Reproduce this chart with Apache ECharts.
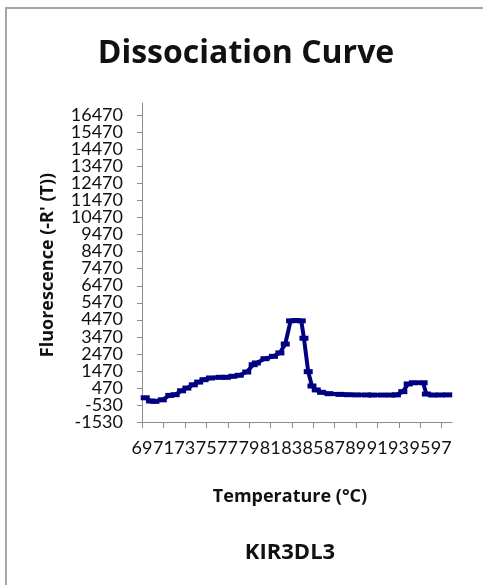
<!DOCTYPE html>
<html>
<head>
<meta charset="utf-8">
<script src="https://cdn.jsdelivr.net/npm/echarts@6/dist/echarts.min.js"></script>
<style>
html,body{margin:0;padding:0;background:#fff;}
#chart{width:483px;height:585px;}
</style>
</head>
<body>
<div id="chart"></div>
<script>
// Temperature (°C) of each reading
var temperatures = [69.3, 69.8, 70.2, 70.9, 71.6, 72.1, 72.7, 73.2, 73.8, 74.3, 74.8, 75.4, 76.3, 76.9, 77.5, 78.1, 78.8, 79.4, 79.7, 80.5, 81.3, 81.9, 82.4, 82.9, 83.4, 83.9, 84.15, 84.55, 84.9, 85.3, 85.8, 86.5, 87.5, 88.3, 89.1, 90.0, 90.6, 91.5, 92.3, 92.8, 93.4, 93.9, 94.4, 95.3, 95.6, 96.2, 96.9, 97.6];
// Fluorescence (-R'(T))
var fluorescence = [-110, -300, -320, -230, 30, 70, 300, 460, 650, 810, 950, 1050, 1090, 1090, 1150, 1210, 1400, 1830, 1930, 2180, 2320, 2520, 3040, 4400, 4420, 4400, 3380, 1420, 580, 350, 210, 130, 90, 70, 60, 55, 50, 50, 50, 60, 250, 700, 770, 770, 110, 50, 55, 60];
// Tick labels
var yTicks = [-1530, -530, 470, 1470, 2470, 3470, 4470, 5470, 6470, 7470, 8470, 9470, 10470, 11470, 12470, 13470, 14470, 15470, 16470];
var xTicks = [69, 71, 73, 75, 77, 79, 81, 83, 85, 87, 89, 91, 93, 95, 97];

var points = temperatures.map(function (t, i) { return [t, fluorescence[i]]; });
// crowded y labels are split over two overlaid axes so none get hidden
var yTicksA = yTicks.filter(function (v, i) { return i % 2 === 0; });
var yTicksB = yTicks.filter(function (v, i) { return i % 2 === 1; });

var chart = echarts.init(document.getElementById('chart'), null, {renderer: 'canvas'});
var txt = '#111';
var axisCol = '#8c8c8c';
var plain = function (v) { return String(v); };
var Y_MIN = -1530, Y_MAX = 17170, X_MIN = 69, X_MAX = 98;
var yLabelAxis = function (vals) {
  return {
    type: 'value', min: Y_MIN, max: Y_MAX, position: 'left', offset: 0,
    axisLine: {show: false, onZero: false}, axisTick: {show: false}, splitLine: {show: false},
    axisLabel: {customValues: vals, formatter: plain, showMinLabel: true, showMaxLabel: true,
      fontFamily: 'Lato', fontSize: 18, color: txt, margin: 19}
  };
};
// tick marks placed through the axis scales (api.coord)
var tickSeries = function (vals, vertical) {
  return {
    type: 'custom', coordinateSystem: 'cartesian2d', xAxisIndex: 0, yAxisIndex: 0,
    silent: true, clip: false, z: 3,
    data: vals.map(function (v) { return vertical ? [v, Y_MIN] : [X_MIN, v]; }),
    renderItem: function (params, api) {
      var p = api.coord([api.value(0), api.value(1)]);
      var shape = vertical
        ? {x1: Math.round(p[0]) + 0.5, y1: p[1], x2: Math.round(p[0]) + 0.5, y2: p[1] + 6}
        : {x1: p[0] - 5, y1: Math.round(p[1]) + 0.5, x2: p[0], y2: Math.round(p[1]) + 0.5};
      return {type: 'line', shape: shape, style: {stroke: axisCol, lineWidth: 1}};
    }
  };
};
chart.setOption({
  animation: false,
  backgroundColor: '#fff',
  graphic: [{
    type: 'rect', silent: true,
    shape: {x: 6, y: 8, width: 600, height: 700},
    style: {fill: 'none', stroke: '#a6a6a6', lineWidth: 2}
  }, {
    type: 'text', silent: true, x: 246, y: 54,
    style: {text: 'Dissociation Curve', fontFamily: 'Open Sans', fontWeight: 'bold', fontSize: 32, fill: txt,
      textAlign: 'center', textVerticalAlign: 'middle'}
  }, {
    type: 'text', silent: true, x: 290, y: 553,
    style: {text: 'KIR3DL3', fontFamily: 'Open Sans', fontWeight: 'bold', fontSize: 22, fill: txt,
      textAlign: 'center', textVerticalAlign: 'middle'}
  }, {
    type: 'text', silent: true, x: 290, y: 497,
    style: {text: 'Temperature (°C)', fontFamily: 'Open Sans', fontWeight: 'bold', fontSize: 18, fill: txt,
      textAlign: 'center', textVerticalAlign: 'middle'}
  }, {
    type: 'text', silent: true, x: 48, y: 265, rotation: Math.PI / 2,
    style: {text: "Fluorescence (-R' (T))", fontFamily: 'Open Sans', fontWeight: 'bold', fontSize: 18, fill: txt,
      textAlign: 'center', textVerticalAlign: 'middle'}
  }],
  grid: {left: 142, top: 103, right: 31, bottom: 163, containLabel: false},
  xAxis: [{
    type: 'value', min: X_MIN, max: X_MAX, position: 'bottom',
    axisLine: {show: true, onZero: false, lineStyle: {color: axisCol, width: 1}},
    axisTick: {show: false},
    axisLabel: {show: false},
    splitLine: {show: false}
  }, {
    type: 'value', min: X_MIN, max: X_MAX, position: 'bottom', offset: 0,
    axisLine: {show: false, onZero: false}, axisTick: {show: false}, splitLine: {show: false},
    axisLabel: {customValues: xTicks, formatter: plain, showMinLabel: true, showMaxLabel: true,
      fontFamily: 'Lato', fontSize: 18, color: txt, margin: 17}
  }],
  yAxis: [{
    type: 'value', min: Y_MIN, max: Y_MAX, position: 'left',
    axisLine: {show: true, onZero: false, lineStyle: {color: axisCol, width: 1}},
    axisTick: {show: false},
    axisLabel: {show: false},
    splitLine: {show: false}
  }, yLabelAxis(yTicksA), yLabelAxis(yTicksB)],
  series: [tickSeries(yTicks, false), tickSeries(xTicks, true), {
    type: 'line', data: points, xAxisIndex: 0, yAxisIndex: 0, z: 5,
    lineStyle: {color: '#000080', width: 4},
    itemStyle: {color: '#000080'},
    symbol: 'rect', symbolSize: [9, 5], showSymbol: true
  }]
});
</script>
</body>
</html>
